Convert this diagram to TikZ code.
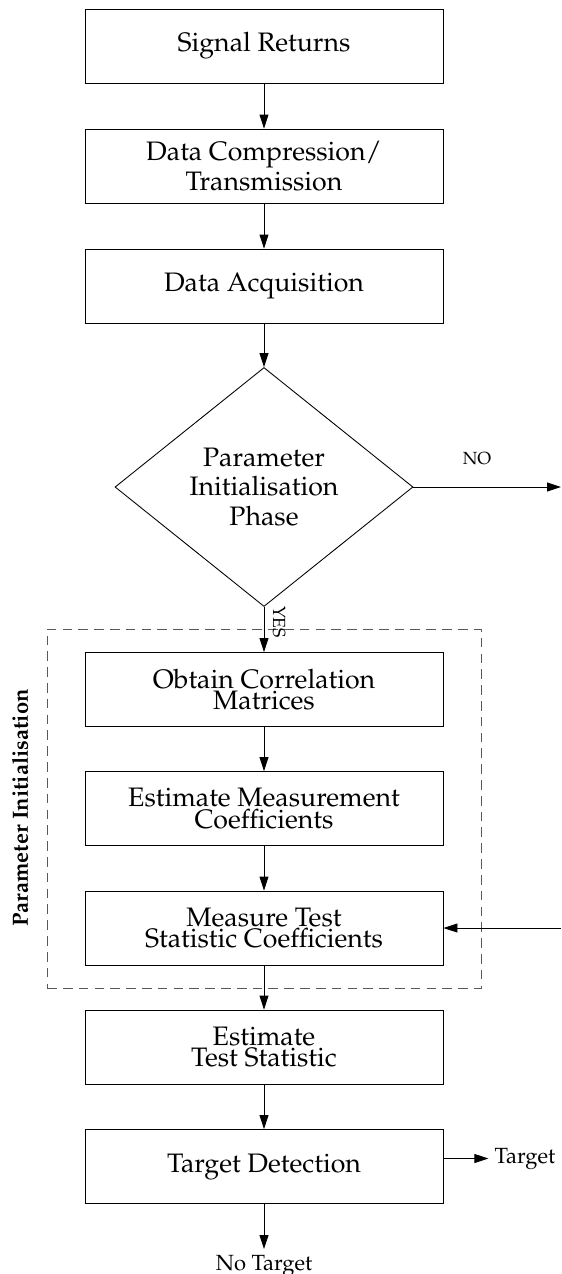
\documentclass[tikz,border=0pt]{standalone}
\usepackage[T1]{fontenc}
\usepackage{mathpazo}
\usepackage{tikz}
\usetikzlibrary{shapes.geometric,arrows.meta,fit,calc}

\begin{document}
\begin{tikzpicture}[
    line width=0.5pt,
    proc/.style={draw, rectangle, minimum width=7.16cm, minimum height=1.48cm,
        align=center, font=\fontsize{15.2}{17.3}\selectfont},
    proctight/.style={proc, font=\fontsize{15.2}{12.3}\selectfont},
    decide/.style={draw, diamond, minimum width=5.96cm, minimum height=4.78cm,
        inner sep=0pt, align=center, font=\fontsize{15.2}{16.6}\selectfont},
    flow/.style={-{Triangle[length=0.28cm,width=0.18cm]}},
    tag/.style={font=\fontsize{10}{12}\selectfont},
    outtext/.style={font=\fontsize{12.5}{14}\selectfont}]
    \useasboundingbox (0,0) rectangle (11.22,-25.48);

    % Main chain
    \node[proc] (sig) at (5.28,-0.92) {Signal Returns};
    \node[proc] (comp) at (5.28,-3.32) {Data Compression/\\Transmission};
    \node[proc] (acq) at (5.28,-5.72) {Data Acquisition};
    \node[decide] (phase) at (5.28,-9.74) {Parameter\\Initialisation\\Phase};

    % Parameter initialisation block
    \node[proctight] (corr) at (5.28,-13.79) {Obtain Correlation\\Matrices};
    \node[proctight] (meas) at (5.28,-16.17) {Estimate Measurement\\Coefficients};
    \node[proctight] (coef) at (5.28,-18.56) {Measure Test\\Statistic Coefficients};
    \node[draw=black!65, dash pattern=on 5.5pt off 3.5pt, fit=(corr)(coef),
        inner xsep=0.75cm, inner ysep=0.46cm] (init) {};
    \node[rotate=90, font=\bfseries\fontsize{12.5}{14}\selectfont] (initlbl)
        at (0.4,-16.16) {Parameter Initialisation};

    % Detection
    \node[proctight] (stat) at (5.28,-20.94) {Estimate\\Test Statistic};
    \node[proc] (det) at (5.28,-23.33) {Target Detection};
    \node[outtext] (tgt) at (10.5,-23.17) {Target};
    \node[outtext, anchor=north] (notgt) at (5.28,-24.98) {No Target};

    % Connectors
    \draw[flow] (sig) -- (comp);
    \draw[flow] (comp) -- (acq);
    \draw[flow] (acq) -- (phase);
    \draw[flow] (phase) -- (corr);
    \node[tag, rotate=-90] (yes) at (5.58,-12.44) {YES};
    \coordinate (noend) at (11.22,-9.74);
    \draw[flow] (phase.east) -- (noend);
    \node[tag] (no) at (9.54,-9.18) {NO};
    \draw[flow] (corr) -- (meas);
    \draw[flow] (meas) -- (coef);
    \coordinate (loopin) at (11.22,-18.56);
    \draw[flow] (loopin) -- (coef.east);
    \draw[flow] (coef) -- (stat);
    \draw[flow] (stat) -- (det);
    \draw[flow] (det.east |- tgt) -- (tgt);
    \draw[flow] (det) -- (notgt);
\end{tikzpicture}
\end{document}
